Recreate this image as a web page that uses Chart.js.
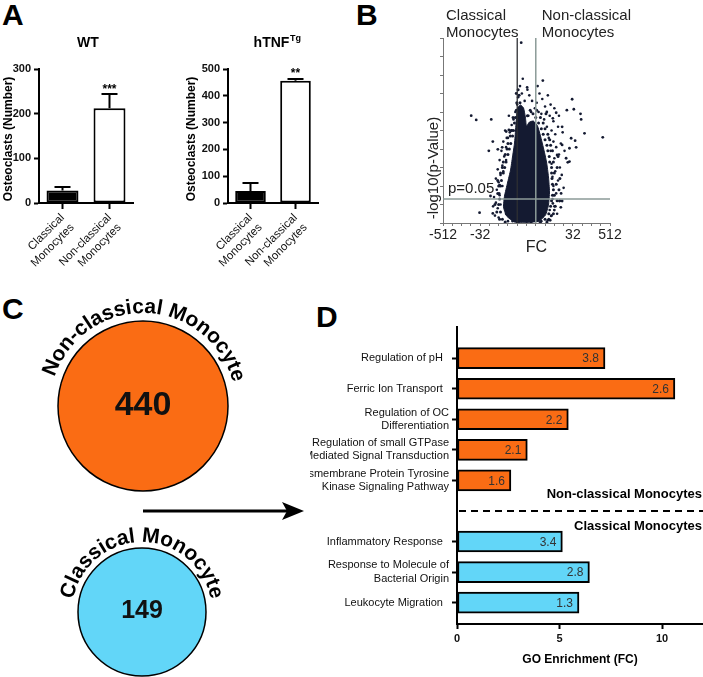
<!DOCTYPE html>
<html>
<head>
<meta charset="utf-8">
<script src="https://cdn.jsdelivr.net/npm/chart.js@4.4.1/dist/chart.umd.min.js"></script>
<style>
  html, body { margin: 0; padding: 0; background: #fff; overflow: hidden; }
  #fig { position: relative; width: 703px; height: 677px; overflow: hidden; font-family: "Liberation Sans", Arial, Helvetica, sans-serif; }
  #fig canvas { position: absolute; }
  .letter { position: absolute; font-weight: bold; font-size: 30px; line-height: 1; color: #000; }
</style>
</head>
<body>
<div id="fig">
  <div class="letter" style="left:2px;top:0px">A</div>
  <div class="letter" style="left:356px;top:0px">B</div>
  <div class="letter" style="left:2px;top:294px">C</div>
  <div class="letter" style="left:316px;top:302px">D</div>

  <canvas id="wt" width="172" height="290" style="left:0;top:0"></canvas>
  <canvas id="tnf" width="168" height="290" style="left:172px;top:0"></canvas>
  <canvas id="volcano" width="363" height="290" style="left:340px;top:0"></canvas>
  <canvas id="ncPie" width="290" height="230" style="left:0;top:290px"></canvas>
  <canvas id="cPie" width="290" height="180" style="left:0;top:520px"></canvas>
  <canvas id="go" width="393" height="387" style="left:310px;top:290px"></canvas>

  <svg width="703" height="677" style="position:absolute;left:0;top:0;pointer-events:none">
    <line x1="143" y1="511" x2="288" y2="511" stroke="#000" stroke-width="3"/>
    <polygon points="304,511 282,502 287,511 282,520" fill="#000"/>
  </svg>
</div>

<script>
const FONT = '"Liberation Sans", Arial, Helvetica, sans-serif';
Chart.defaults.font.family = FONT;
Chart.defaults.color = '#111';
Chart.defaults.animation = false;
Chart.defaults.plugins.legend.display = false;
Chart.defaults.plugins.tooltip.enabled = false;

// ---- panel A: osteoclast counts
const osteoCategories = [['Classical', 'Monocytes'], ['Non-classical', 'Monocytes']];
const wtMeans = [28, 212];
const wtErrors = [8, 32];
const wtMarks = ['', '***'];
const tnfMeans = [45, 456];
const tnfErrors = [30, 7];
const tnfMarks = ['', '**'];

// ---- panel B: volcano plot (x = log2 FC, y = -log10 p)
const fcMinorTicks = [-9, -8, -7, -6, -5, -4, -3, -2, -1, 0, 1, 2, 3, 4, 5, 6, 7, 8, 9];
const fcTickValues = [-9, -5, 5, 9];
const fcTickLabels = ['-512', '-32', '32', '512'];
const fcCutoff = 1;          // log2(2)
const pCutoff = 1.3;         // -log10(0.05)
// outline of the saturated centre of the cloud
const denseCore = [
  [0, 0], [-1.3, 0.05], [-2.15, 0.38], [-2.48, 0.86], [-2.37, 1.46], [-2.05, 2.16],
  [-1.72, 2.86], [-1.51, 3.57], [-1.29, 4.32], [-1.18, 5.03], [-1.08, 5.68], [-0.97, 6.22],
  [-0.65, 6.38], [-0.32, 6.22], [-0.11, 5.68], [0.0, 5.24], [0.32, 5.46], [0.75, 5.51],
  [1.19, 5.24], [1.51, 4.7], [1.83, 4.05], [2.16, 3.3], [2.37, 2.49], [2.48, 1.68],
  [2.37, 0.97], [2.05, 0.43], [1.29, 0.05]
];
const cloudPoints = [
  [-3.1, 0.8], [-3.3, 1.1], [-2.9, 1.5], [-3.2, 1.8], [-3.0, 2.2], [-2.8, 2.6], [-3.1, 2.9],
  [-2.6, 3.1], [-2.9, 3.4], [-2.4, 3.6], [-2.7, 3.9], [-2.2, 4.1], [-2.5, 4.4], [-2.0, 4.6],
  [-1.8, 4.9], [-2.3, 5.0], [-1.6, 5.3], [-1.4, 5.6], [-1.9, 5.8], [-1.2, 6.0], [-1.0, 6.4],
  [-0.9, 6.8], [-3.4, 0.4], [-3.0, 0.3], [-2.8, 1.0], [-3.5, 1.4], [-2.6, 2.0], [-3.3, 2.4],
  [-2.5, 2.8], [-2.2, 3.4],
  [2.7, 0.4], [3.0, 0.9], [2.8, 1.3], [3.2, 1.6], [2.9, 2.0], [3.4, 2.3], [2.8, 2.5],
  [3.1, 2.8], [3.6, 3.0], [2.7, 3.2], [3.0, 3.5], [3.5, 3.7], [2.6, 3.9], [3.2, 4.1],
  [2.9, 4.4], [3.7, 4.3], [2.4, 4.6], [3.1, 4.8], [2.7, 5.0], [3.4, 5.2], [2.2, 5.2],
  [2.9, 5.5], [1.9, 5.6], [2.5, 5.8], [1.6, 5.9], [3.9, 4.9], [4.1, 3.9], [3.8, 2.6],
  [4.0, 1.9], [3.6, 1.2],
  [1.3, 6.0], [0.9, 6.2], [0.5, 6.0], [0.2, 5.8], [1.1, 6.5], [0.6, 6.6], [2.0, 6.3],
  [1.7, 6.7], [2.6, 6.4], [0.3, 6.9], [1.4, 7.0], [-0.2, 6.6], [-0.5, 7.0], [-0.7, 7.4],
  [-0.4, 7.8], [0.1, 7.2], [1.2, 7.4], [2.3, 6.9], [3.0, 6.2], [3.5, 5.8],
  [-2.0, 0.1], [2.3, 0.15], [-1.5, 0.1], [1.6, 0.1], [3.3, 0.5], [-3.6, 0.9], [-2.2, 0.5],
  [2.5, 0.7]
];
// denser fringe hugging the core
const fringePoints = [
  [-2.6, 0.2], [-2.9, 0.2], [-2.8, 0.6], [-3.2, 0.6], [-3.0, 1.0], [-3.4, 1.0], [-2.9, 1.3],
  [-3.1, 1.6], [-2.95, 1.6], [-2.8, 2.0], [-3.0, 2.0], [-2.7, 2.3], [-3.1, 2.3], [-2.5, 2.7],
  [-2.8, 2.7], [-2.35, 3.0], [-2.6, 3.0], [-2.2, 3.3], [-2.5, 3.3], [-2.0, 3.7], [-2.3, 3.7],
  [-1.85, 4.0], [-2.1, 4.0], [-1.7, 4.3], [-2.0, 4.3], [-1.5, 4.7], [-1.75, 4.7], [-1.4, 5.0],
  [-1.65, 5.0], [-1.3, 5.4], [-1.2, 5.7], [-1.45, 5.7], [-1.1, 6.1], [-1.05, 6.5], [-0.7, 6.5],
  [-0.8, 6.9], [-0.9, 7.2],
  [2.0, 0.2], [2.4, 0.2], [2.4, 0.5], [2.9, 0.5], [2.6, 0.9], [3.1, 0.9], [2.7, 1.2], [3.3, 1.2],
  [2.8, 1.5], [3.0, 1.5], [2.9, 1.8], [3.5, 1.8], [2.8, 2.1], [3.2, 2.1], [2.75, 2.4], [3.6, 2.4],
  [2.7, 2.7], [3.0, 2.7], [2.7, 3.0], [3.3, 3.0], [2.5, 3.3], [2.9, 3.3], [2.45, 3.6], [3.4, 3.6],
  [2.3, 3.9], [2.8, 3.9], [2.2, 4.2], [2.6, 4.2], [2.0, 4.5], [2.5, 4.5], [1.8, 4.8], [2.3, 4.8],
  [1.6, 5.1], [2.0, 5.1], [1.3, 5.4], [1.8, 5.4], [1.0, 5.7], [1.5, 5.7], [0.7, 5.9], [2.1, 5.9],
  [0.4, 6.1], [1.1, 6.1], [0.1, 5.8],
  [-1.0, 0.05], [0.5, 0.05], [1.5, 0.05], [-2.3, 0.05], [2.2, 0.05]
];
const outlierPoints = [
  [-0.57, 9.75], [1.76, 7.7], [0.07, 7.33], [-1.11, 7.0], [4.92, 6.69], [-5.96, 5.8],
  [-5.42, 5.57], [-3.8, 5.6], [4.35, 6.1], [5.1, 6.15], [2.19, 6.0], [3.2, 5.96],
  [2.84, 5.66], [5.89, 5.6], [3.84, 5.2], [6.25, 4.85], [8.22, 4.63], [4.81, 4.58],
  [5.24, 4.45], [-3.63, 4.4], [-1.9, 5.03], [-1.58, 5.0], [-2.12, 4.6], [-4.06, 3.9],
  [-3.09, 3.98], [-2.62, 4.09], [4.63, 4.04], [5.35, 4.09], [3.84, 4.22], [3.3, 3.68],
  [4.27, 3.5], [4.63, 3.32], [-2.9, 2.05], [-3.88, 1.46], [-5.06, 0.56], [-3.63, 0.52],
  [2.84, 1.06], [3.56, 1.19], [3.84, 1.19], [3.0, 0.7], [2.66, 0.38], [3.73, 1.6],
  [4.45, 3.28], [3.7, 0.85], [2.55, 0.15], [-0.57, 6.2], [-2.19, 4.94], [5.82, 5.9]
];

// ---- panel C: gene set sizes
const setNames = ['Non-classical Monocyte', 'Classical Monocyte'];
const setCounts = [440, 149];

// ---- panel D: GO enrichment
const nonClassicalTerms = [['Regulation of pH  '], ['Ferric Ion Transport  '], ['Regulation of OC', 'Differentiation'],
  ['Regulation of small GTPase', 'Mediated Signal Transduction'], ['Transmembrane Protein Tyrosine', 'Kinase Signaling Pathway']];
const nonClassicalEnrichment = [7.22, 10.63, 5.43, 3.43, 2.63];
const nonClassicalValues = ['3.8', '2.6', '2.2', '2.1', '1.6'];
const classicalTerms = [['Inflammatory Response  '], ['Response to Molecule of', 'Bacterial Origin'], ['Leukocyte Migration  ']];
const classicalEnrichment = [5.14, 6.46, 5.95];
const classicalValues = ['3.4', '2.8', '1.3'];

const ORANGE = '#fa6c14';
const BLUE = '#62d6f8';
const DOT = '#141a31';

// ---------- panel A
const osteoPlugin = {
  id: 'osteo',
  afterDatasetsDraw(chart, args, o) {
    const {ctx} = chart;
    const ys = chart.scales.y;
    const means = chart.data.datasets[0].data;
    ctx.save();
    ctx.strokeStyle = '#000';
    ctx.fillStyle = '#000';
    ctx.lineWidth = 2;
    chart.getDatasetMeta(0).data.forEach((bar, i) => {
      const top = ys.getPixelForValue(means[i] + o.errors[i]);
      ctx.beginPath();
      ctx.moveTo(bar.x, bar.y);
      ctx.lineTo(bar.x, top);
      ctx.moveTo(bar.x - 8, top);
      ctx.lineTo(bar.x + 8, top);
      ctx.stroke();
      if (o.marks[i]) {
        ctx.font = 'bold 12px ' + FONT;
        ctx.textAlign = 'center';
        ctx.textBaseline = 'alphabetic';
        ctx.fillText(o.marks[i], bar.x, top - 1.5);
      }
    });
    ctx.restore();
  },
  afterDraw(chart, args, o) {
    const {ctx, chartArea: ca} = chart;
    ctx.save();
    ctx.fillStyle = '#000';
    ctx.textBaseline = 'alphabetic';
    ctx.font = 'bold 14px ' + FONT;
    const wMain = ctx.measureText(o.title).width;
    ctx.font = 'bold 9px ' + FONT;
    const wSup = o.sup ? ctx.measureText(o.sup).width : 0;
    const x0 = (ca.left + ca.right) / 2 - (wMain + wSup) / 2 + o.titleShift;
    ctx.textAlign = 'left';
    ctx.font = 'bold 14px ' + FONT;
    ctx.fillText(o.title, x0, 47);
    if (o.sup) {
      ctx.font = 'bold 9px ' + FONT;
      ctx.fillText(o.sup, x0 + wMain + 0.5, 41);
    }
    ctx.translate(o.yTitleX, (ca.top + ca.bottom) / 2 + 3);
    ctx.rotate(-Math.PI / 2);
    ctx.textAlign = 'center';
    ctx.textBaseline = 'middle';
    ctx.font = 'bold 12px ' + FONT;
    ctx.fillText('Osteoclasts (Number)', 0, 0);
    ctx.restore();
  }
};

function osteoChart(id, means, errors, marks, yMax, title, sup, yAxisWidth, padRight, yTitleX, titleShift) {
  return new Chart(document.getElementById(id), {
    type: 'bar',
    data: {
      labels: osteoCategories,
      datasets: [{
        data: means,
        backgroundColor: ['#000', '#fff'],
        borderColor: '#000',
        borderWidth: 2,
        borderSkipped: false,
        barPercentage: 0.68,
        categoryPercentage: 1
      }]
    },
    options: {
      responsive: false,
      layout: {padding: {top: 69, right: padRight, left: 0, bottom: 0}},
      scales: {
        x: {
          grid: {drawOnChartArea: false, offset: false, tickLength: 6, tickWidth: 2, tickColor: '#000'},
          border: {color: '#000', width: 2},
          ticks: {minRotation: 45, maxRotation: 45, font: {size: 11.5}, color: '#111', padding: 2},
          afterFit(s) { s.height = 87; }
        },
        y: {
          min: 0, max: yMax,
          ticks: {stepSize: 100, font: {size: 11, weight: 'bold'}, color: '#111', padding: 3},
          grid: {drawOnChartArea: false, tickLength: 5, tickWidth: 2, tickColor: '#000'},
          border: {color: '#000', width: 2},
          afterFit(s) { s.width = yAxisWidth; }
        }
      },
      plugins: {osteo: {errors, marks, title, sup, yTitleX, titleShift}}
    },
    plugins: [osteoPlugin]
  });
}

osteoChart('wt', wtMeans, wtErrors, wtMarks, 300, 'WT', '', 39, 39, 9, 2);
osteoChart('tnf', tnfMeans, tnfErrors, tnfMarks, 500, 'hTNF', 'Tg', 56, 22, 20, 4);

// ---------- panel B
const toXY = (pairs) => pairs.map(([x, y]) => ({x, y}));

const volcanoPlugin = {
  id: 'volcanoExtras',
  afterDatasetsDraw(chart) {
    const {ctx, chartArea: ca, scales: {x, y}} = chart;
    ctx.save();
    ctx.lineWidth = 1.3;
    ctx.strokeStyle = '#2e3033';
    ctx.beginPath();
    ctx.moveTo(x.getPixelForValue(-fcCutoff), ca.top);
    ctx.lineTo(x.getPixelForValue(-fcCutoff), ca.bottom);
    ctx.stroke();
    ctx.strokeStyle = '#8c9b98';
    ctx.lineWidth = 1.5;
    ctx.beginPath();
    ctx.moveTo(x.getPixelForValue(fcCutoff), ca.top);
    ctx.lineTo(x.getPixelForValue(fcCutoff), ca.bottom);
    ctx.moveTo(ca.left, y.getPixelForValue(pCutoff));
    ctx.lineTo(ca.right, y.getPixelForValue(pCutoff));
    ctx.stroke();

    ctx.fillStyle = '#222';
    ctx.font = '15px ' + FONT;
    ctx.textAlign = 'left';
    ctx.textBaseline = 'alphabetic';
    ctx.fillText('Classical', ca.left + 3, 20);
    ctx.fillText('Monocytes', ca.left + 3, 37);
    const rx = x.getPixelForValue(fcCutoff) + 6;
    ctx.fillText('Non-classical', rx, 20);
    ctx.fillText('Monocytes', rx, 37);
    ctx.fillText('p=0.05', ca.left + 5, y.getPixelForValue(pCutoff) - 6);

    ctx.font = '16px ' + FONT;
    ctx.textAlign = 'center';
    ctx.fillText('FC', (ca.left + ca.right) / 2 + 10, 252);

    ctx.translate(ca.left - 9, 168);
    ctx.rotate(-Math.PI / 2);
    ctx.font = '15px ' + FONT;
    ctx.textBaseline = 'middle';
    ctx.fillText('-log10(p-Value)', 0, 0);
    ctx.restore();
  }
};

new Chart(document.getElementById('volcano'), {
  type: 'scatter',
  data: {
    datasets: [
      {data: toXY(denseCore), showLine: true, fill: 'shape', tension: 0.15,
        backgroundColor: DOT, borderColor: DOT, borderWidth: 1, pointRadius: 0},
      {data: toXY(fringePoints), pointRadius: 1.5, backgroundColor: DOT, borderWidth: 0},
      {data: toXY(cloudPoints), pointRadius: 1.3, backgroundColor: DOT, borderWidth: 0},
      {data: toXY(outlierPoints), pointRadius: 1.4, backgroundColor: DOT, borderWidth: 0}
    ]
  },
  options: {
    responsive: false,
    layout: {padding: {top: 38, right: 93, left: 0, bottom: 0}},
    scales: {
      x: {
        type: 'linear', min: -9, max: 9,
        afterBuildTicks(s) { s.ticks = fcMinorTicks.map(v => ({value: v})); },
        ticks: {
          autoSkip: false, maxRotation: 0, font: {size: 14}, color: '#222', padding: 1,
          callback(v) { const k = fcTickValues.indexOf(v); return k >= 0 ? fcTickLabels[k] : ''; }
        },
        grid: {drawOnChartArea: false, tickLength: 3, tickColor: '#777', tickWidth: 1},
        border: {color: '#777', width: 1},
        afterFit(s) { s.height = 67; }
      },
      y: {
        min: 0, max: 10,
        ticks: {stepSize: 1, callback: () => ''},
        grid: {drawOnChartArea: false, tickLength: 3, tickColor: '#777', tickWidth: 1},
        border: {color: '#777', width: 1},
        afterFit(s) { s.width = 103; }
      }
    }
  },
  plugins: [volcanoPlugin]
});

// ---------- panel C
const setPlugin = {
  id: 'setExtras',
  afterDatasetsDraw(chart, args, o) {
    const {ctx} = chart;
    const arc = chart.getDatasetMeta(0).data[0];
    const cx = arc.x, cy = arc.y, r = arc.outerRadius;
    ctx.save();
    ctx.strokeStyle = '#000';
    ctx.lineWidth = 1.5;
    ctx.beginPath();
    ctx.arc(cx, cy, r, 0, Math.PI * 2);
    ctx.stroke();

    ctx.fillStyle = '#111';
    ctx.textAlign = 'center';
    ctx.textBaseline = 'alphabetic';
    ctx.font = 'bold ' + o.numSize + 'px ' + FONT;
    ctx.fillText(String(chart.data.datasets[0].data[0]), cx, cy + 0.36 * o.numSize - 3);

    // curved name above the circle
    ctx.font = 'bold 21px ' + FONT;
    const R = r + o.gap;
    const total = ctx.measureText(o.name).width;
    let a = -Math.PI / 2 - total / (2 * R) + o.turn;
    for (const ch of o.name) {
      const w = ctx.measureText(ch).width;
      const mid = a + w / (2 * R);
      ctx.save();
      ctx.translate(cx + R * Math.cos(mid), cy + R * Math.sin(mid));
      ctx.rotate(mid + Math.PI / 2);
      ctx.fillStyle = '#000';
      ctx.fillText(ch, 0, 0);
      ctx.restore();
      a += w / R;
    }
    ctx.restore();
  }
};

function setChart(id, idx, color, padding, numSize, gap, turn) {
  return new Chart(document.getElementById(id), {
    type: 'pie',
    data: {
      labels: [setNames[idx]],
      datasets: [{data: [setCounts[idx]], backgroundColor: color, borderWidth: 0, hoverBorderWidth: 0, offset: 0, hoverOffset: 0}]
    },
    options: {
      responsive: false,
      layout: {padding},
      plugins: {setExtras: {name: setNames[idx], numSize, gap, turn}}
    },
    plugins: [setPlugin]
  });
}

setChart('ncPie', 0, ORANGE, {left: 58, right: 62, top: 31, bottom: 29}, 34, 8, 0.03);
setChart('cPie', 1, BLUE, {left: 78, right: 84, top: 28, bottom: 24}, 25, 6, 0);

// ---------- panel D
const goRows = [...nonClassicalTerms, [''], ...classicalTerms];
const goEnrichment = [...nonClassicalEnrichment, null, ...classicalEnrichment];
const goValues = [...nonClassicalValues, '', ...classicalValues];
const goColors = [...nonClassicalTerms.map(() => ORANGE), '#fff', ...classicalTerms.map(() => BLUE)];
const gapRow = nonClassicalTerms.length;

const goPlugin = {
  id: 'goExtras',
  afterDatasetsDraw(chart) {
    const {ctx, chartArea: ca, scales: {y}} = chart;
    ctx.save();
    ctx.fillStyle = '#333';
    ctx.font = '12px ' + FONT;
    ctx.textAlign = 'right';
    ctx.textBaseline = 'middle';
    chart.getDatasetMeta(0).data.forEach((bar, i) => {
      const row = chart.data.datasets[0].data[i].y;
      ctx.fillText(goValues[row], bar.x - 6, bar.y + 1);
    });

    const yd = y.getPixelForValue(gapRow);
    ctx.strokeStyle = '#000';
    ctx.lineWidth = 2;
    ctx.setLineDash([7, 5]);
    ctx.beginPath();
    ctx.moveTo(ca.left + 2, yd);
    ctx.lineTo(ca.right, yd);
    ctx.stroke();
    ctx.setLineDash([]);

    ctx.fillStyle = '#000';
    ctx.font = 'bold 13px ' + FONT;
    ctx.textBaseline = 'alphabetic';
    ctx.fillText('Non-classical Monocytes', ca.right - 1, yd - 13);
    ctx.fillText('Classical Monocytes', ca.right - 1, yd + 19);

    ctx.textAlign = 'center';
    ctx.font = 'bold 12px ' + FONT;
    ctx.fillText('GO Enrichment (FC)', (ca.left + ca.right) / 2, 373);
    ctx.restore();
  }
};

new Chart(document.getElementById('go'), {
  type: 'bar',
  data: {
    datasets: [{
      data: goEnrichment.map((v, i) => ({x: v, y: i})).filter(d => d.x !== null),
      backgroundColor: goColors.filter((c, i) => goEnrichment[i] !== null),
      borderColor: '#000',
      borderWidth: 2,
      borderSkipped: false,
      barThickness: 21
    }]
  },
  options: {
    responsive: false,
    indexAxis: 'y',
    layout: {padding: {top: 37, right: 0, left: 0, bottom: 0}},
    scales: {
      x: {
        type: 'linear', min: 0, max: 12,
        ticks: {stepSize: 5, includeBounds: false, font: {size: 11, weight: 'bold'}, color: '#111', padding: 3},
        grid: {drawOnChartArea: false, tickLength: 5, tickWidth: 2, tickColor: '#000'},
        border: {color: '#000', width: 2},
        afterFit(s) { s.height = 53; }
      },
      y: {
        type: 'linear', reverse: true, min: -1.02, max: 8.7, offset: false,
        afterBuildTicks(s) {
          s.ticks = goRows.map((l, i) => ({value: i})).filter(t => goRows[t.value][0] !== '');
        },
        ticks: {autoSkip: false, font: {size: 11, lineHeight: 1.2}, color: '#111', padding: 3,
          callback: v => goRows[v]},
        grid: {drawOnChartArea: false, offset: false, tickLength: 5, tickWidth: 2, tickColor: '#000'},
        border: {color: '#000', width: 2},
        afterFit(s) { s.width = 147; }
      }
    }
  },
  plugins: [goPlugin]
});
</script>
</body>
</html>
